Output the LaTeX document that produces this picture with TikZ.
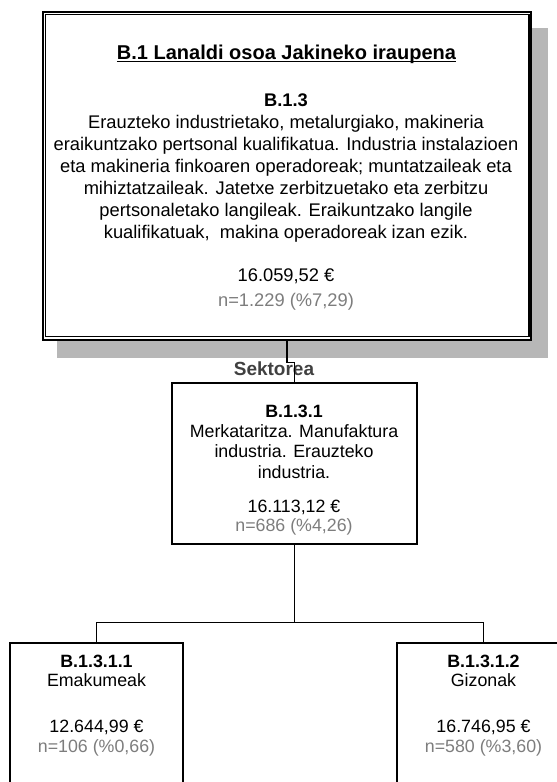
\documentclass[tikz,border=0pt]{standalone}
\usepackage{fontspec}
\setmainfont{Liberation Sans}
\usetikzlibrary{backgrounds}
\definecolor{shadowgray}{RGB}{183,183,183}
\definecolor{countgray}{RGB}{125,125,125}
\definecolor{labelgray}{RGB}{64,64,64}
\begin{document}
\begin{tikzpicture}[x=1pt,y=-1pt,
  box/.style={draw=black,fill=white,line width=1.4pt,inner sep=0pt},
  txt/.style={anchor=base,inner sep=0pt,font=\fontsize{17.8}{22}\selectfont},
  bigtxt/.style={txt,font=\fontsize{18.3}{22}\selectfont},
  hdr/.style={txt,font=\fontsize{17.8}{22}\selectfont\bfseries},
  cnt/.style={txt,text=countgray},
  wire/.style={draw=black,line width=1.5pt}]
\useasboundingbox (0,0) rectangle (557,782);
\clip (0,0) rectangle (557,782);

% root box with double frame and drop shadow
\node[box,line width=2pt,minimum width=488pt,minimum height=328pt] (top) at (287,175.7) {};
\draw[line width=1.2pt] ([shift={(3.5,3.5)}]top.north west) rectangle ([shift={(-3,-4.5)}]top.south east);
\begin{scope}[on background layer]
  \fill[shadowgray] ([shift={(15,17)}]top.north west) rectangle ([shift={(16,17)}]top.south east);
\end{scope}

\node[anchor=base,inner sep=0pt,font=\fontsize{20}{24}\selectfont\bfseries] (title) at (286.5,59.5) {B.1 Lanaldi osoa Jakineko iraupena\hspace{5.6pt}};
\draw[line width=1.3pt] ([shift={(0,2)}]title.base west) -- ([shift={(0,2)}]title.base east);

\node[hdr,font=\fontsize{18.3}{22}\selectfont\bfseries] (c0) at (286,106) {B.1.3};
\node[bigtxt] (l1) at (286,128.5) {Erauzteko industrietako, metalurgiako, makineria};
\node[bigtxt] (l2) at (286,150.5) {eraikuntzako pertsonal kualifikatua. Industria instalazioen};
\node[bigtxt] (l3) at (286,172.5) {eta makineria finkoaren operadoreak; muntatzaileak eta};
\node[bigtxt] (l4) at (286,194.5) {mihiztatzaileak. Jatetxe zerbitzuetako eta zerbitzu};
\node[bigtxt] (l5) at (286,216.5) {pertsonaletako langileak. Eraikuntzako langile};
\node[bigtxt] (l6) at (286,238.5) {kualifikatuak,\ \ makina operadoreak izan ezik.};
\node[bigtxt] (v0) at (286,281) {16.059,52 €};
\node[bigtxt,text=countgray] (n0) at (286,306.5) {n=1.229 (\%7,29)};

% sector split
\node[box,minimum width=245pt,minimum height=161pt] (mid) at (294.5,463.5) {};
\node[hdr] (c1) at (294,417) {B.1.3.1};
\node[txt] (m1) at (294,437) {Merkataritza. Manufaktura};
\node[txt] (m2) at (294,457.5) {industria. Erauzteko};
\node[txt] (m3) at (294,478) {industria.};
\node[txt] (v1) at (294,512) {16.113,12 €};
\node[cnt] (n1) at (294,531.5) {n=686 (\%4,26)};

% sex split
\node[box,minimum width=173pt,minimum height=167pt] (left) at (96.5,726.5) {};
\node[hdr] (c2) at (96.5,667.5) {B.1.3.1.1};
\node[txt] (e1) at (96.5,686.5) {Emakumeak};
\node[txt] (v2) at (96.5,732.5) {12.644,99 €};
\node[cnt] (n2) at (96.5,752.5) {n=106 (\%0,66)};

\node[box,minimum width=173pt,minimum height=167pt] (right) at (483.5,726.5) {};
\node[hdr] (c3) at (483.5,667.5) {B.1.3.1.2};
\node[txt] (g1) at (483.5,686.5) {Gizonak};
\node[txt] (v3) at (483.5,732.5) {16.746,95 €};
\node[cnt] (n3) at (483.5,752.5) {n=580 (\%3,60)};

% connectors
\node[anchor=base,inner sep=0pt,text=labelgray,font=\fontsize{19}{22}\selectfont\bfseries] (sector) at (274,375) {Sektorea};
\draw[wire] (top.south) -- ++(0,22) -| (mid.north);
\draw[wire] (mid.south) -- ++(0,78) coordinate (split);
\draw[wire] (left.north) |- (split) -| (right.north);
\end{tikzpicture}
\end{document}
